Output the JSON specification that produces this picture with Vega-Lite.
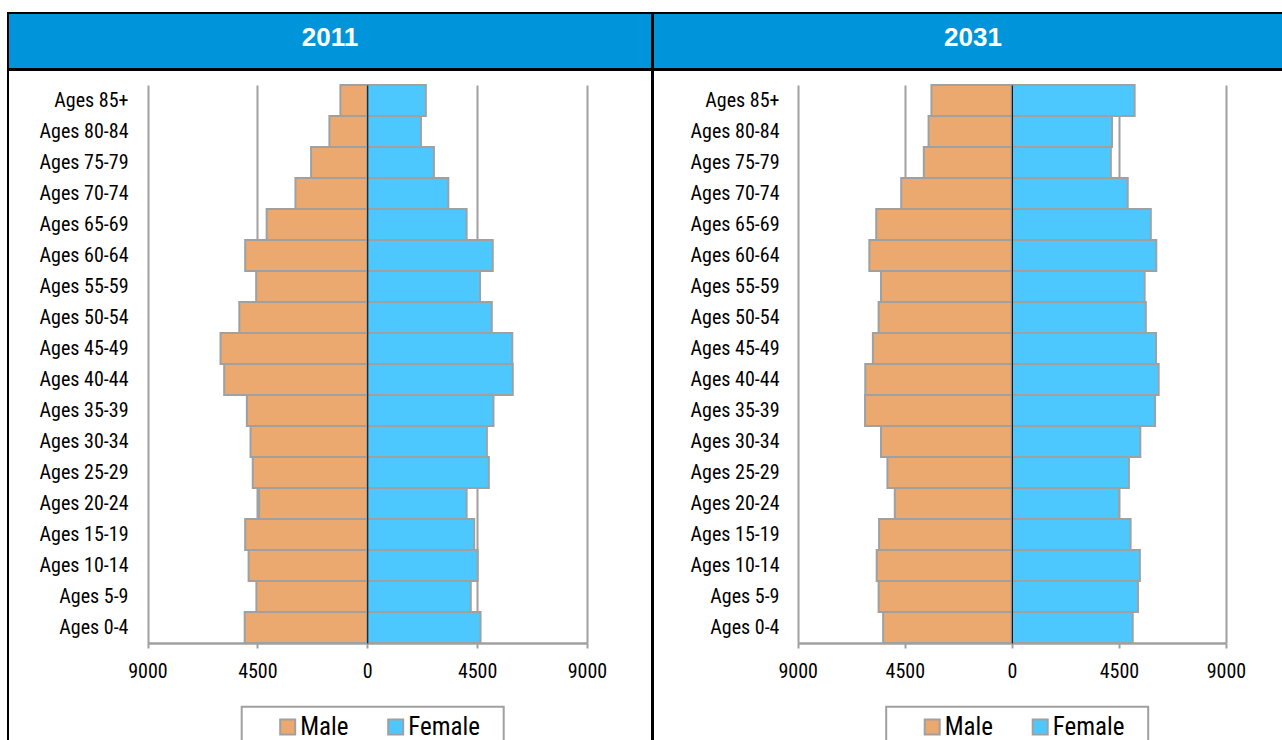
{
  "$schema": "https://vega.github.io/schema/vega-lite/v6.json",
  "background": "white",
  "padding": {"left": 7, "top": 12, "right": 0, "bottom": 0},
  "datasets": {
    "pop": [
      {"year": "2011", "age": "Ages 85+", "sex": "Male", "pop": -1100},
      {"year": "2011", "age": "Ages 80-84", "sex": "Male", "pop": -1550},
      {"year": "2011", "age": "Ages 75-79", "sex": "Male", "pop": -2300},
      {"year": "2011", "age": "Ages 70-74", "sex": "Male", "pop": -2940},
      {"year": "2011", "age": "Ages 65-69", "sex": "Male", "pop": -4120},
      {"year": "2011", "age": "Ages 60-64", "sex": "Male", "pop": -5000},
      {"year": "2011", "age": "Ages 55-59", "sex": "Male", "pop": -4550},
      {"year": "2011", "age": "Ages 50-54", "sex": "Male", "pop": -5240},
      {"year": "2011", "age": "Ages 45-49", "sex": "Male", "pop": -6010},
      {"year": "2011", "age": "Ages 40-44", "sex": "Male", "pop": -5860},
      {"year": "2011", "age": "Ages 35-39", "sex": "Male", "pop": -4930},
      {"year": "2011", "age": "Ages 30-34", "sex": "Male", "pop": -4780},
      {"year": "2011", "age": "Ages 25-29", "sex": "Male", "pop": -4690},
      {"year": "2011", "age": "Ages 20-24", "sex": "Male", "pop": -4430},
      {"year": "2011", "age": "Ages 15-19", "sex": "Male", "pop": -5000},
      {"year": "2011", "age": "Ages 10-14", "sex": "Male", "pop": -4860},
      {"year": "2011", "age": "Ages 5-9", "sex": "Male", "pop": -4540},
      {"year": "2011", "age": "Ages 0-4", "sex": "Male", "pop": -5020},
      {"year": "2011", "age": "Ages 85+", "sex": "Female", "pop": 2400},
      {"year": "2011", "age": "Ages 80-84", "sex": "Female", "pop": 2200},
      {"year": "2011", "age": "Ages 75-79", "sex": "Female", "pop": 2730},
      {"year": "2011", "age": "Ages 70-74", "sex": "Female", "pop": 3320},
      {"year": "2011", "age": "Ages 65-69", "sex": "Female", "pop": 4070},
      {"year": "2011", "age": "Ages 60-64", "sex": "Female", "pop": 5140},
      {"year": "2011", "age": "Ages 55-59", "sex": "Female", "pop": 4620},
      {"year": "2011", "age": "Ages 50-54", "sex": "Female", "pop": 5100},
      {"year": "2011", "age": "Ages 45-49", "sex": "Female", "pop": 5940},
      {"year": "2011", "age": "Ages 40-44", "sex": "Female", "pop": 5960},
      {"year": "2011", "age": "Ages 35-39", "sex": "Female", "pop": 5170},
      {"year": "2011", "age": "Ages 30-34", "sex": "Female", "pop": 4900},
      {"year": "2011", "age": "Ages 25-29", "sex": "Female", "pop": 4980},
      {"year": "2011", "age": "Ages 20-24", "sex": "Female", "pop": 4070},
      {"year": "2011", "age": "Ages 15-19", "sex": "Female", "pop": 4380},
      {"year": "2011", "age": "Ages 10-14", "sex": "Female", "pop": 4520},
      {"year": "2011", "age": "Ages 5-9", "sex": "Female", "pop": 4240},
      {"year": "2011", "age": "Ages 0-4", "sex": "Female", "pop": 4640},
      {"year": "2031", "age": "Ages 85+", "sex": "Male", "pop": -3380},
      {"year": "2031", "age": "Ages 80-84", "sex": "Male", "pop": -3500},
      {"year": "2031", "age": "Ages 75-79", "sex": "Male", "pop": -3700},
      {"year": "2031", "age": "Ages 70-74", "sex": "Male", "pop": -4650},
      {"year": "2031", "age": "Ages 65-69", "sex": "Male", "pop": -5700},
      {"year": "2031", "age": "Ages 60-64", "sex": "Male", "pop": -5990},
      {"year": "2031", "age": "Ages 55-59", "sex": "Male", "pop": -5500},
      {"year": "2031", "age": "Ages 50-54", "sex": "Male", "pop": -5600},
      {"year": "2031", "age": "Ages 45-49", "sex": "Male", "pop": -5840},
      {"year": "2031", "age": "Ages 40-44", "sex": "Male", "pop": -6160},
      {"year": "2031", "age": "Ages 35-39", "sex": "Male", "pop": -6170},
      {"year": "2031", "age": "Ages 30-34", "sex": "Male", "pop": -5500},
      {"year": "2031", "age": "Ages 25-29", "sex": "Male", "pop": -5230},
      {"year": "2031", "age": "Ages 20-24", "sex": "Male", "pop": -4920},
      {"year": "2031", "age": "Ages 15-19", "sex": "Male", "pop": -5580},
      {"year": "2031", "age": "Ages 10-14", "sex": "Male", "pop": -5680},
      {"year": "2031", "age": "Ages 5-9", "sex": "Male", "pop": -5600},
      {"year": "2031", "age": "Ages 0-4", "sex": "Male", "pop": -5410},
      {"year": "2031", "age": "Ages 85+", "sex": "Female", "pop": 5160},
      {"year": "2031", "age": "Ages 80-84", "sex": "Female", "pop": 4210},
      {"year": "2031", "age": "Ages 75-79", "sex": "Female", "pop": 4160},
      {"year": "2031", "age": "Ages 70-74", "sex": "Female", "pop": 4870},
      {"year": "2031", "age": "Ages 65-69", "sex": "Female", "pop": 5840},
      {"year": "2031", "age": "Ages 60-64", "sex": "Female", "pop": 6070},
      {"year": "2031", "age": "Ages 55-59", "sex": "Female", "pop": 5580},
      {"year": "2031", "age": "Ages 50-54", "sex": "Female", "pop": 5630},
      {"year": "2031", "age": "Ages 45-49", "sex": "Female", "pop": 6060},
      {"year": "2031", "age": "Ages 40-44", "sex": "Female", "pop": 6170},
      {"year": "2031", "age": "Ages 35-39", "sex": "Female", "pop": 6020},
      {"year": "2031", "age": "Ages 30-34", "sex": "Female", "pop": 5400},
      {"year": "2031", "age": "Ages 25-29", "sex": "Female", "pop": 4920},
      {"year": "2031", "age": "Ages 20-24", "sex": "Female", "pop": 4500},
      {"year": "2031", "age": "Ages 15-19", "sex": "Female", "pop": 4990},
      {"year": "2031", "age": "Ages 10-14", "sex": "Female", "pop": 5380},
      {"year": "2031", "age": "Ages 5-9", "sex": "Female", "pop": 5300},
      {"year": "2031", "age": "Ages 0-4", "sex": "Female", "pop": 5080}
    ]
  },
  "spacing": -2,
  "resolve": {"scale": {"color": "independent", "x": "independent", "y": "independent"}, "legend": {"color": "independent"}},
  "hconcat": [
    {
      "spacing": -2,
      "vconcat": [
        {
          "width": 644,
          "height": 56,
          "view": {"fill": "#0095DA", "stroke": "black", "strokeWidth": 2},
          "data": {"values": [{"label": "2011"}]},
          "mark": {"type": "text", "color": "white", "font": "Liberation Sans", "fontWeight": "bold", "fontSize": 26, "baseline": "middle", "dy": -3},
          "encoding": {"text": {"field": "label", "type": "nominal"}}
        },
        {
          "width": 644,
          "height": 680,
          "view": {"stroke": "black", "strokeWidth": 2},
          "data": {"name": "pop"},
          "transform": [{"filter": "datum.year === '2011'"}],
          "mark": {"type": "bar", "stroke": "#A0A0A0", "strokeWidth": 2},
          "encoding": {
            "y": {
              "field": "age", "type": "nominal",
              "scale": {"domain": ["Ages 85+","Ages 80-84","Ages 75-79","Ages 70-74","Ages 65-69","Ages 60-64","Ages 55-59","Ages 50-54","Ages 45-49","Ages 40-44","Ages 35-39","Ages 30-34","Ages 25-29","Ages 20-24","Ages 15-19","Ages 10-14","Ages 5-9","Ages 0-4"], "range": [15, 573], "paddingInner": 0, "paddingOuter": 0},
              "axis": {"orient": "left", "offset": -359.25, "zindex": 1, "title": null, "domain": true, "domainColor": "black", "domainWidth": 1, "ticks": false, "tickSize": 0, "labelPadding": 239.25, "labelFontSize": 20, "labelFont": "Roboto Condensed", "labelColor": "black", "grid": false}
            },
            "x": {
              "field": "pop", "type": "quantitative", "stack": null,
              "scale": {"domain": [-9000, 9000], "range": [139.5, 579], "nice": false},
              "axis": {"orient": "top", "offset": -573, "zindex": 0, "title": null, "values": [-9000, -4500, 0, 4500, 9000], "labelExpr": "abs(datum.value)", "domainColor": "#A0A0A0", "domainWidth": 2.5, "tickColor": "#A0A0A0", "tickWidth": 2, "tickSize": -5, "grid": true, "gridColor": "#A0A0A0", "gridWidth": 2, "labelFontSize": 20, "labelFont": "Roboto Condensed", "labelColor": "black", "labelPadding": -13.4, "labelBaseline": "top", "labelFlush": false, "labelOverlap": false}
            },
            "color": {
              "field": "sex", "type": "nominal",
              "scale": {"domain": ["Male", "Female"], "range": ["#EBA96F", "#4DC8FF"]},
              "legend": {"orient": "none", "legendX": 233.7, "legendY": 693.7, "direction": "horizontal", "title": " ", "titleOrient": "right", "titlePadding": 16, "titleFontSize": 20, "symbolType": "square", "symbolSize": 225, "symbolStrokeColor": "#A0A0A0", "symbolStrokeWidth": 2, "symbolOpacity": 1, "symbolOffset": 26, "labelOffset": 0, "labelFontSize": 25, "labelFont": "Roboto Condensed", "labelColor": "black", "columnPadding": 8, "padding": 7.5, "strokeColor": "#A0A0A0", "fillColor": "white"}
            }
          }
        }
      ]
    },
    {
      "spacing": -2,
      "vconcat": [
        {
          "width": 640,
          "height": 56,
          "view": {"fill": "#0095DA", "stroke": "black", "strokeWidth": 2},
          "data": {"values": [{"label": "2031"}]},
          "mark": {"type": "text", "color": "white", "font": "Liberation Sans", "fontWeight": "bold", "fontSize": 26, "baseline": "middle", "dy": -3},
          "encoding": {"text": {"field": "label", "type": "nominal"}}
        },
        {
          "width": 640,
          "height": 680,
          "view": {"stroke": "black", "strokeWidth": 2},
          "data": {"name": "pop"},
          "transform": [{"filter": "datum.year === '2031'"}],
          "mark": {"type": "bar", "stroke": "#A0A0A0", "strokeWidth": 2},
          "encoding": {
            "y": {
              "field": "age", "type": "nominal",
              "scale": {"domain": ["Ages 85+","Ages 80-84","Ages 75-79","Ages 70-74","Ages 65-69","Ages 60-64","Ages 55-59","Ages 50-54","Ages 45-49","Ages 40-44","Ages 35-39","Ages 30-34","Ages 25-29","Ages 20-24","Ages 15-19","Ages 10-14","Ages 5-9","Ages 0-4"], "range": [15, 573], "paddingInner": 0, "paddingOuter": 0},
              "axis": {"orient": "left", "offset": -358.85, "zindex": 1, "title": null, "domain": true, "domainColor": "black", "domainWidth": 1, "ticks": false, "tickSize": 0, "labelPadding": 232.85, "labelFontSize": 20, "labelFont": "Roboto Condensed", "labelColor": "black", "grid": false}
            },
            "x": {
              "field": "pop", "type": "quantitative", "stack": null,
              "scale": {"domain": [-9000, 9000], "range": [144.7, 573], "nice": false},
              "axis": {"orient": "top", "offset": -573, "zindex": 0, "title": null, "values": [-9000, -4500, 0, 4500, 9000], "labelExpr": "abs(datum.value)", "domainColor": "#A0A0A0", "domainWidth": 2.5, "tickColor": "#A0A0A0", "tickWidth": 2, "tickSize": -5, "grid": true, "gridColor": "#A0A0A0", "gridWidth": 2, "labelFontSize": 20, "labelFont": "Roboto Condensed", "labelColor": "black", "labelPadding": -13.4, "labelBaseline": "top", "labelFlush": false, "labelOverlap": false}
            },
            "color": {
              "field": "sex", "type": "nominal",
              "scale": {"domain": ["Male", "Female"], "range": ["#EBA96F", "#4DC8FF"]},
              "legend": {"orient": "none", "legendX": 233.2, "legendY": 693.7, "direction": "horizontal", "title": " ", "titleOrient": "right", "titlePadding": 16, "titleFontSize": 20, "symbolType": "square", "symbolSize": 225, "symbolStrokeColor": "#A0A0A0", "symbolStrokeWidth": 2, "symbolOpacity": 1, "symbolOffset": 26, "labelOffset": 0, "labelFontSize": 25, "labelFont": "Roboto Condensed", "labelColor": "black", "columnPadding": 8, "padding": 7.5, "strokeColor": "#A0A0A0", "fillColor": "white"}
            }
          }
        }
      ]
    }
  ],
  "config": {
    "font": "Liberation Sans",
    "view": {"stroke": null},
    "legend": {"strokeWidth": 2}
  }
}
